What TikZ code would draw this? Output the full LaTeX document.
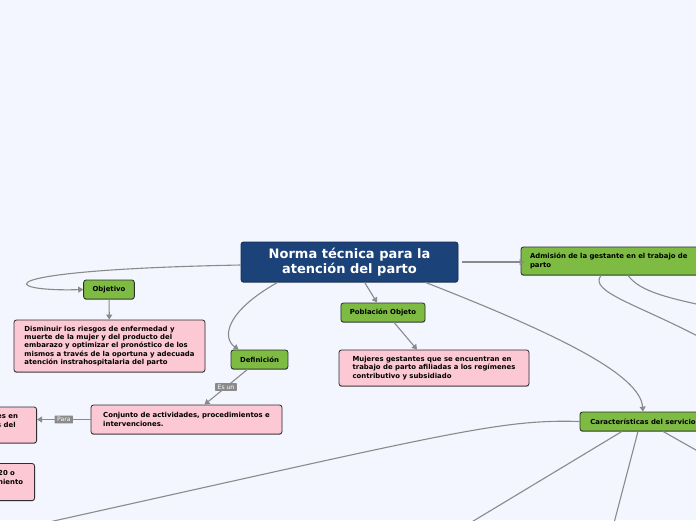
\documentclass[tikz,border=0pt]{standalone}
\usepackage{fontspec}
\setmainfont{DejaVu Sans}
\usetikzlibrary{arrows.meta,shadows}
\definecolor{fondo}{HTML}{F3F6FE}
\definecolor{azul}{HTML}{1B4279}
\definecolor{verde}{HTML}{7DBB42}
\definecolor{rosa}{HTML}{FCC8D3}
\definecolor{gris}{HTML}{8A8A8A}
\definecolor{borde}{HTML}{2E2E2E}
\tikzset{
  caja/.style={draw=borde, line width=0.8pt, rounded corners=2.5pt, inner xsep=9pt, inner ysep=0pt,
    font=\fontsize{6.9pt}{8.3pt}\selectfont\bfseries,
    drop shadow={shadow xshift=0pt, shadow yshift=-0.9pt, fill=black, opacity=0.35}},
  cajaverde/.style={caja, fill=verde, align=center, minimum height=19pt},
  cajarosa/.style={caja, fill=rosa, align=left},
  etiqueta/.style={fill=gris, text=white, inner xsep=2.5pt, inner ysep=1.6pt, rounded corners=0.5pt,
    font=\fontsize{6.1pt}{7pt}\selectfont},
  enlace/.style={draw=gris, line width=1.1pt, -{Triangle[width=6pt,length=5pt]}},
  rama/.style={draw=gris, line width=1.1pt},
}
\begin{document}
\begin{tikzpicture}[x=1pt, y=-1pt]
    \path[use as bounding box, fill=fondo] (0,0) rectangle (696,520);
    \clip (0,0) rectangle (696,520);

    % tema central
    \node[caja, fill=azul, draw=azul!70!black, text=white, minimum width=217pt, minimum height=40pt, align=center,
        font=\fontsize{13pt}{15.5pt}\selectfont\bfseries] (principal) at (349.5,262) {Norma técnica para la\\atención del parto};

    % ramas principales
    \node[cajaverde, minimum width=48pt] (objetivo) at (109,289.5) {Objetivo};
    \node[cajarosa, minimum width=191pt, minimum height=52pt] (txtobjetivo) at (109.5,346) {Disminuir los riesgos de enfermedad y\\muerte de la mujer y del producto del\\embarazo y optimizar el pronóstico de los\\mismos a través de la oportuna y adecuada\\atención instrahospitalaria del parto};
    \node[cajaverde, minimum width=55pt] (definicion) at (259.5,359.5) {Definición};
    \node[cajarosa, minimum width=191pt, minimum height=29pt] (conjunto) at (186.5,419.5) {Conjunto de actividades, procedimientos e\\intervenciones.};
    \node[cajarosa, minimum width=190pt, minimum height=36pt, anchor=east] (cortadoA) at (37,425) {};
    \node[font=\fontsize{6.9pt}{8.3pt}\selectfont\bfseries, align=left, inner sep=0pt, anchor=west] (textoA) at (-3,421) {es en\\s del};
    \node[cajarosa, minimum width=190pt, minimum height=37pt, anchor=east] (cortadoB) at (35,482) {};
    \node[font=\fontsize{6.9pt}{8.3pt}\selectfont\bfseries, align=left, inner sep=0pt, anchor=west] (textoB) at (-2,477.5) {20 o\\niento};
    \node[cajaverde, minimum width=82pt] (poblacion) at (383,312.5) {Población Objeto};
    \node[cajarosa, minimum width=190pt, minimum height=36pt] (mujeres) at (434,368) {Mujeres gestantes que se encuentran en\\trabajo de parto afiliadas a los regímenes\\contributivo y subsidiado};
    \node[cajaverde, align=left, text width=182pt, minimum height=28pt] (admision) at (621,261) {Admisión de la gestante en el trabajo de\\parto};
    \node[cajaverde, minimum width=126pt] (caracteristicas) at (643,421.5) {Características del servicio};

    % extremos fuera del cuadro
    \coordinate (finA) at (705,340);
    \coordinate (finB) at (705,306);
    \coordinate (finC) at (40,524);
    \coordinate (finD) at (470,523);
    \coordinate (finE) at (614,523);
    \coordinate (finF) at (710,458);

    % conectores
    \draw[enlace] ([yshift=-3pt]principal.west) .. controls (-20,270) and (0,292) .. (objetivo.west);
    \draw[enlace] (objetivo) -- (txtobjetivo);
    \draw[enlace] ([xshift=37pt]principal.south west) .. controls (225,312) and (222,338) .. ([xshift=8pt]definicion.north west);
    \draw[enlace] ([xshift=-12pt]definicion.south) -- ([xshift=18pt]conjunto.north) node[etiqueta, midway] (esun) {Es un};
    \draw[enlace] (conjunto.west) -- (conjunto.west -| cortadoA.east) node[etiqueta, midway] (para) {Para};
    \draw[enlace] ([xshift=124pt]principal.south west) -- ([xshift=-6pt]poblacion.north);
    \draw[enlace] ([xshift=11pt]poblacion.south) -- ([xshift=-17pt]mujeres.north);
    \draw[enlace] ([xshift=4pt]principal.east) -- ([xshift=4pt]principal.east -| admision.west);
    \draw[enlace] ([xshift=-33pt]principal.south east) .. controls (560,335) and (640,375) .. (caracteristicas.north);

    \draw[rama] ([xshift=-20pt]admision.south) .. controls (588,292) and (640,305) .. (finA);
    \draw[rama] ([xshift=7pt]admision.south) .. controls (640,292) and (670,298) .. (finB);
    \draw[rama] (caracteristicas.west) .. controls (500,419) and (450,433) .. (finC);
    \draw[rama] ([xshift=-21pt]caracteristicas.south) -- (finD);
    \draw[rama] ([xshift=-5pt]caracteristicas.south) -- (finE);
    \draw[rama] ([xshift=20pt]caracteristicas.south) -- (finF);
\end{tikzpicture}
\end{document}
